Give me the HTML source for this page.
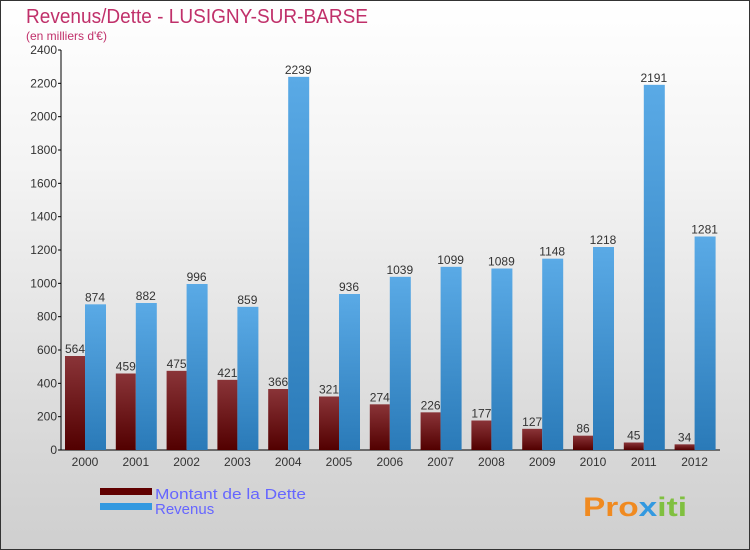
<!DOCTYPE html>
<html><head><meta charset="utf-8"><style>
body{margin:0;width:750px;height:550px;overflow:hidden;font-family:"Liberation Sans",sans-serif}
#c{position:absolute;left:0;top:0;width:748px;height:548px;border:1px solid #333;background:linear-gradient(#fff,#f4f4f4 30%,#d6d6d6 85%,#cfcfcf)}
</style></head><body>
<div id="c">
<svg width="750" height="550" id="svg" style="position:absolute;left:-1px;top:-1px">
<defs>
<linearGradient id="gd" x1="0" y1="0" x2="0" y2="1"><stop offset="0" stop-color="#8a3438"/><stop offset="1" stop-color="#520000"/></linearGradient>
<linearGradient id="gr" x1="0" y1="0" x2="0" y2="1"><stop offset="0" stop-color="#5aaae6"/><stop offset="1" stop-color="#2a7ab8"/></linearGradient>
</defs>
<text x="26" y="23" font-size="20" fill="#c0306a" textLength="342" lengthAdjust="spacingAndGlyphs">Revenus/Dette - LUSIGNY-SUR-BARSE</text>
<text x="26" y="40" font-size="12" fill="#c0306a">(en milliers d'€)</text>
<g id="plot"></g>
<rect x="100" y="488" width="52" height="7" fill="#600000"/>
<rect x="100" y="503" width="52" height="7" fill="#3399e0"/>
<text x="155" y="499" font-size="15" fill="#6666ff" textLength="151" lengthAdjust="spacingAndGlyphs">Montant de la Dette</text>
<text x="155" y="514" font-size="15" fill="#6666ff">Revenus</text>
<text x="583" y="516" font-size="27" font-weight="bold" fill="#f08a20" textLength="104" lengthAdjust="spacingAndGlyphs">Pro<tspan fill="#3399e0">x</tspan><tspan fill="#80c040">iti</tspan></text>
</svg>
</div>
<script>
const years=["2000","2001","2002","2003","2004","2005","2006","2007","2008","2009","2010","2011","2012"];
const dette=[564,459,475,421,366,321,274,226,177,127,86,45,34];
const revenus=[874,882,996,859,2239,936,1039,1099,1089,1148,1218,2191,1281];
const ticks=[0,200,400,600,800,1000,1200,1400,1600,1800,2000,2200,2400];
const NS="http://www.w3.org/2000/svg";
const g=document.getElementById('plot');
const y=v=>450-v*400/2400;
const cx=i=>85+i*50.8;
function mk(t,a,txt){const e=document.createElementNS(NS,t);for(const k in a)e.setAttribute(k,a[k]);if(txt!==undefined)e.textContent=txt;g.appendChild(e);return e;}
const ax=mk('line',{x1:61,y1:50,x2:61,y2:450,stroke:'#000'});

const xa=mk('line',{x1:61,y1:450,x2:720,y2:450,stroke:'#000'});

ticks.forEach(t=>{
 const l=mk('line',{x1:58,y1:y(t),x2:61,y2:y(t),stroke:'#000'});
 
 const tx=mk('text',{x:57,y:y(t)+4,'font-size':12,fill:'#333','text-anchor':'end'},t);
 
});
years.forEach((yr,i)=>{
 const c=cx(i);
 const b1=mk('rect',{x:c-20,y:y(dette[i]),width:20,height:450-y(dette[i]),fill:'url(#gd)'});
 
 const b2=mk('rect',{x:c,y:y(revenus[i]),width:21,height:450-y(revenus[i]),fill:'url(#gr)'});
 
 const t1=mk('text',{x:c-10,y:y(dette[i])-3,'font-size':12,fill:'#333','text-anchor':'middle'},dette[i]);
 
 const t2=mk('text',{x:c+10,y:y(revenus[i])-3,'font-size':12,fill:'#333','text-anchor':'middle'},revenus[i]);
 
 const xl=mk('text',{x:c,y:466,'font-size':12,fill:'#333','text-anchor':'middle'},yr);
 
});
</script>
</body></html>
